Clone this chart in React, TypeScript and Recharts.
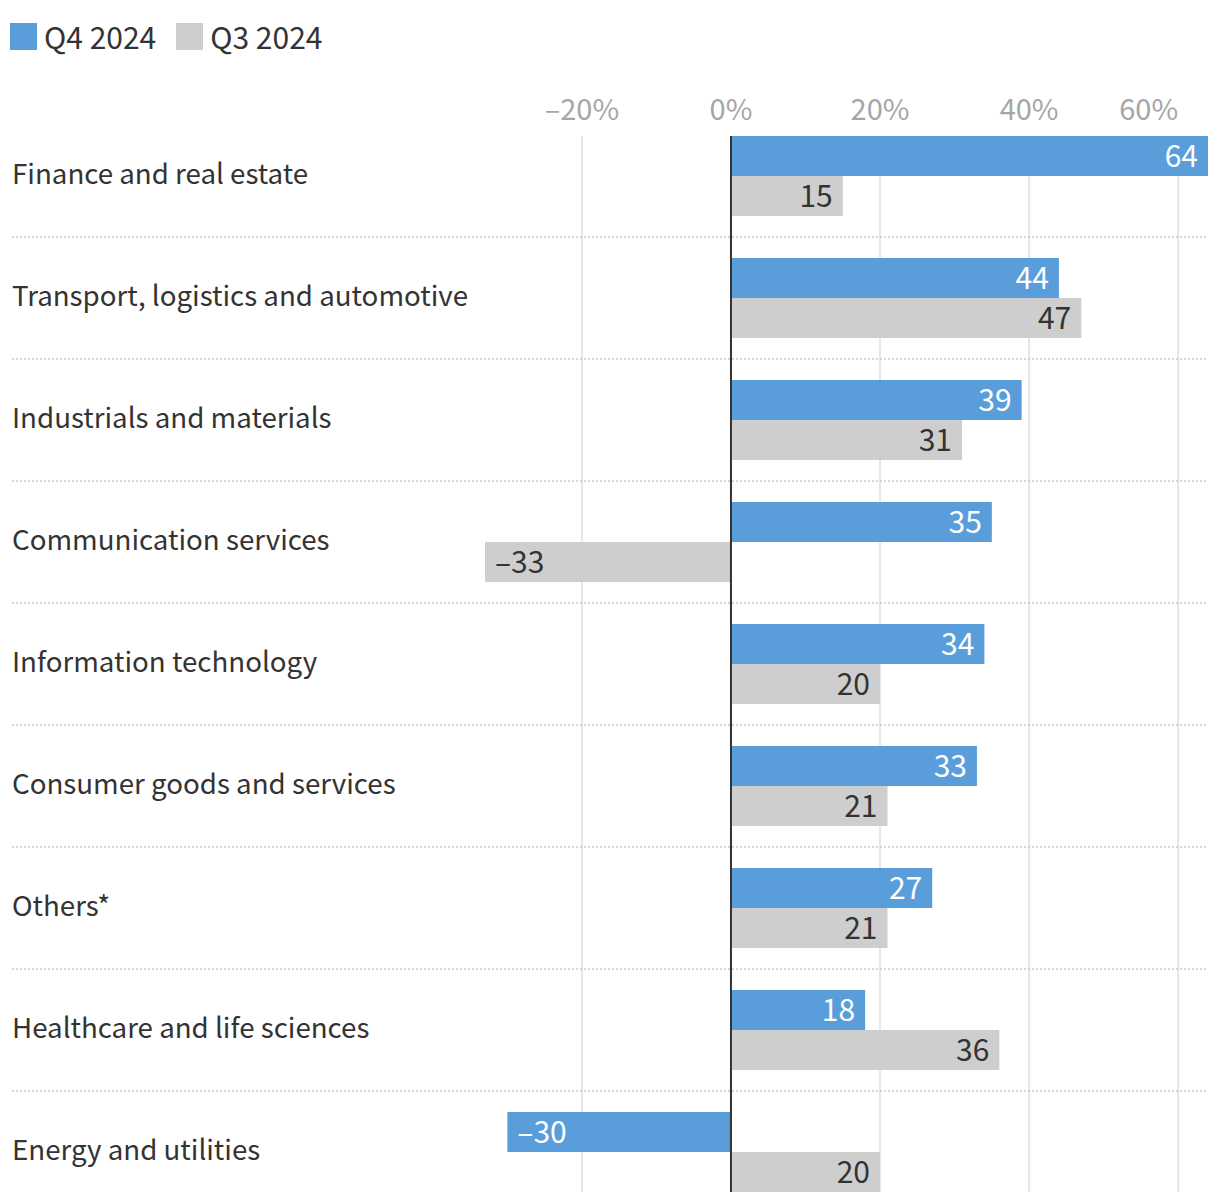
import { Bar, BarChart, CartesianGrid, LabelList, ReferenceLine, XAxis, YAxis } from "recharts";

const categories = [
  "Finance and real estate",
  "Transport, logistics and automotive",
  "Industrials and materials",
  "Communication services",
  "Information technology",
  "Consumer goods and services",
  "Others*",
  "Healthcare and life sciences",
  "Energy and utilities",
];

const q4Values = [64, 44, 39, 35, 34, 33, 27, 18, -30];
const q3Values = [15, 47, 31, -33, 20, 21, 21, 36, 20];

const xTicks = [-20, 0, 20, 40, 60];

const BLUE = "#5a9ddb";
const GRAY = "#cecece";
const FONT = "'Noto Sans CJK KR', 'Noto Sans', sans-serif";
const ROW = 122;

const data = categories.map((c, i) => ({ category: c, q4: q4Values[i], q3: q3Values[i] }));

const fmtNum = (v: number) => (v < 0 ? `\u2013${Math.abs(v)}` : `${v}`);
const fmtPct = (v: number) => (v < 0 ? `\u2013${Math.abs(v)}%` : `${v}%`);

function CategoryTick({ y, payload, index }: any) {
  return (
    <g>
      <text x={12} y={y} dy={-4} textAnchor="start" dominantBaseline="central" fontSize={27.7} fill="#333" fontFamily={FONT}>
        {payload.value}
      </text>
      {index < categories.length - 1 && (
        <line x1={12} x2={1208} y1={y + ROW / 2} y2={y + ROW / 2} stroke="#c8c8c8" strokeWidth={1.5} strokeDasharray="2 2" />
      )}
    </g>
  );
}

// last tick sits right on the edge, so it's anchored to the end
function PctTick({ x, y, payload, index }: any) {
  const last = index === xTicks.length - 1;
  return (
    <text x={x} y={y} dy={-2} textAnchor={last ? "end" : "middle"} fontSize={29} fill="#a6a6a6" fontFamily={FONT}>
      {fmtPct(payload.value)}
    </text>
  );
}

function valueLabel(color: string) {
  return ({ x, y, width, height, value }: any) => {
    const v = Number(value);
    const neg = v < 0;
    const left = Math.min(x, x + width);
    const right = Math.max(x, x + width);
    return (
      <text
        x={neg ? left + 10 : right - 10}
        y={y + height / 2}
        dy={-2}
        textAnchor={neg ? "start" : "end"}
        dominantBaseline="central"
        fontSize={30}
        fill={color}
        fontFamily={FONT}
      >
        {fmtNum(v)}
      </text>
    );
  };
}

function LegendItem({ color, label }: { color: string; label: string }) {
  return (
    <div style={{ display: "flex", alignItems: "center", marginRight: 20 }}>
      <div style={{ width: 27, height: 27, background: color, marginRight: 7 }} />
      <span style={{ fontSize: 30, lineHeight: "30px", color: "#333", fontFamily: FONT }}>{label}</span>
    </div>
  );
}

export default function App() {
  return (
    <div style={{ position: "absolute", left: 0, top: 0, width: 1220, height: 1202, background: "#fff" }}>
      <div style={{ position: "absolute", left: 10, top: 21, display: "flex" }}>
        <LegendItem color={BLUE} label="Q4 2024" />
        <LegendItem color={GRAY} label="Q3 2024" />
      </div>
      <BarChart
        width={1220}
        height={1202}
        data={data}
        layout="vertical"
        barGap={0}
        margin={{ top: 80, right: 12, left: 12, bottom: 10 }}
      >
        <CartesianGrid horizontal={false} stroke="#e6e6e6" strokeWidth={2} syncWithTicks />
        <XAxis
          type="number"
          orientation="top"
          domain={[-33, 64]}
          ticks={xTicks}
          axisLine={false}
          tickLine={false}
          tickSize={0}
          tickMargin={14}
          height={56}
          tick={<PctTick />}
        />
        <YAxis
          type="category"
          dataKey="category"
          width={473}
          axisLine={false}
          tickLine={false}
          padding={{ top: -21, bottom: -21 }}
          tick={<CategoryTick />}
          interval={0}
        />
        <Bar dataKey="q4" fill={BLUE} barSize={40} isAnimationActive={false}>
          <LabelList dataKey="q4" content={valueLabel("#ffffff")} />
        </Bar>
        <Bar dataKey="q3" fill={GRAY} barSize={40} isAnimationActive={false}>
          <LabelList dataKey="q3" content={valueLabel("#333333")} />
        </Bar>
        <ReferenceLine x={0} stroke="#333" strokeWidth={2} />
      </BarChart>
    </div>
  );
}
